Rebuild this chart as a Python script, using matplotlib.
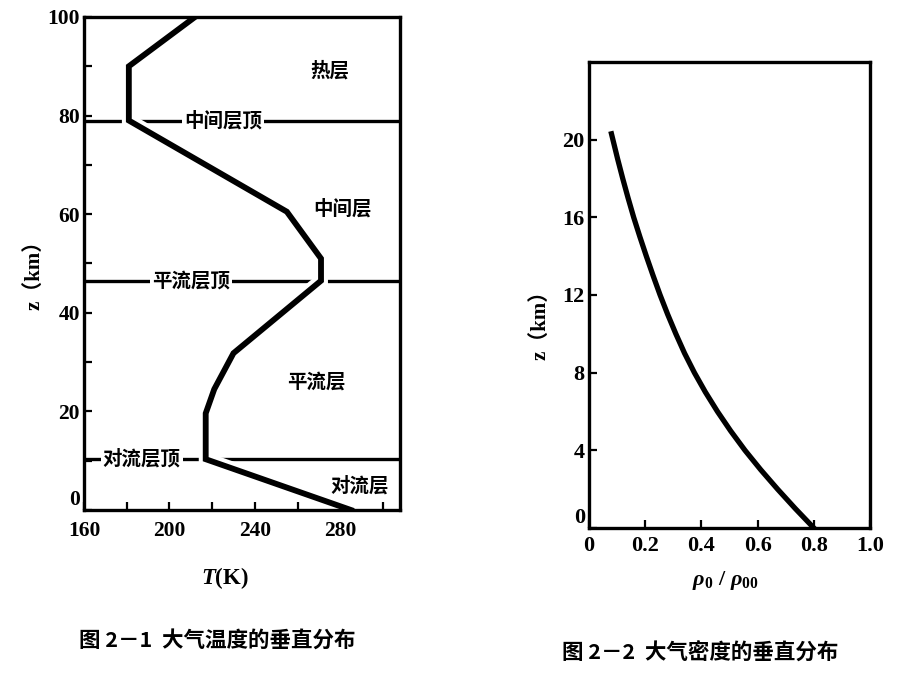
import matplotlib
matplotlib.use("Agg")
import matplotlib.pyplot as plt
import matplotlib.patheffects as pe

plt.rcParams['font.family'] = ['Liberation Serif', 'Noto Sans CJK SC']
plt.rcParams['mathtext.fontset'] = 'custom'
plt.rcParams['mathtext.it'] = 'Liberation Serif:italic:bold'
plt.rcParams['mathtext.rm'] = 'Liberation Serif:bold'
plt.rcParams['font.weight'] = 'bold'

# fig 2-1: temperature profile
temp_T = [285, 217, 217, 221, 230, 271, 271, 255, 181, 181, 212]
temp_z = [0, 10.3, 19.6, 24.5, 31.8, 46.5, 51, 60.5, 79, 90, 100]

layer_names = ['热层', '中间层', '平流层', '对流层']
layer_T = [275, 281, 269, 289]
layer_z = [89, 61, 26, 5]

top_names = ['中间层顶', '平流层顶', '对流层顶']
top_z = [79, 46.5, 10.3]
top_T = [225, 210, 187]

# fig 2-2: density profile
rho_z = [0, 1, 2, 3, 4, 5, 6, 7, 8, 9, 10, 11, 12, 13, 14, 15, 16, 17, 18, 19, 20.3]
rho = [0.800, 0.734, 0.671, 0.611, 0.555, 0.504, 0.457, 0.414, 0.375, 0.340, 0.309,
       0.280, 0.253, 0.228, 0.204, 0.181, 0.159, 0.139, 0.120, 0.102, 0.080]

fig = plt.figure(figsize=(9.2, 6.9), dpi=100)
cjk = ['Noto Sans CJK SC', 'Liberation Serif']

# ---- left panel
ax1 = fig.add_axes([0.0913, 0.2609, 0.3435, 0.7145])
ax1.plot(temp_T, temp_z, color='k', lw=4.2, zorder=2, solid_joinstyle='miter',
         path_effects=[pe.Stroke(linewidth=10, foreground='white'), pe.Normal()])
for z in top_z:
    ax1.axhline(z, color='k', lw=2.4, zorder=1)
for name, t, z in zip(top_names, top_T, top_z):
    ax1.text(t, z, name, family=cjk, fontsize=14, fontweight='bold', ha='center', va='center',
             zorder=3, bbox=dict(facecolor='white', edgecolor='none', pad=1.5))
for name, t, z in zip(layer_names, layer_T, layer_z):
    ax1.text(t, z, name, family=cjk, fontsize=14, fontweight='bold', ha='center', va='center', zorder=3)

ax1.set_xlim(160, 308)
ax1.set_ylim(0, 100)
ax1.set_xticks(range(160, 301, 20))
ax1.set_xticklabels(['160', '', '200', '', '240', '', '280', ''])
ax1.set_yticks(range(0, 101, 10))
ax1.set_yticklabels(['0', '', '20', '', '40', '', '60', '', '80', '', '100'])
ax1.tick_params(direction='in', length=6, width=1.6, labelsize=15.5, pad=3)
ax1.tick_params(axis='x', pad=8)
ax1.yaxis.get_major_ticks()[0].label1.set_verticalalignment('bottom')
for s in ax1.spines.values():
    s.set_linewidth(2.4)

# ---- right panel
ax2 = fig.add_axes([0.6402, 0.2348, 0.3055, 0.6754])
ax2.plot(rho, rho_z, color='k', lw=3.8, solid_joinstyle='round')
ax2.set_xlim(0, 1.0)
ax2.set_ylim(0, 24)
ax2.set_xticks([0, 0.2, 0.4, 0.6, 0.8, 1.0])
ax2.set_xticklabels(['0', '0.2', '0.4', '0.6', '0.8', '1.0'])
ax2.set_yticks([0, 4, 8, 12, 16, 20])
ax2.tick_params(direction='in', length=6, width=1.6, labelsize=16, pad=3)
ax2.tick_params(axis='x', pad=6)
ax2.yaxis.get_major_ticks()[0].label1.set_verticalalignment('bottom')
for s in ax2.spines.values():
    s.set_linewidth(2.4)

# axis titles and captions
fig.text(0.038, 0.609, 'z（km）', rotation=90, ha='center', va='center',
         fontsize=15, fontweight='bold')
fig.text(0.2446, 0.1623, r'$T$(K)', ha='center', va='center', fontsize=16.5)
fig.text(0.587, 0.536, 'z（km）', rotation=90, ha='center', va='center',
         fontsize=15, fontweight='bold')
fig.text(0.788, 0.159, r'$\rho_0\ /\ \rho_{00}$', ha='center', va='center', fontsize=16)

fig.text(0.236, 0.0725, '图 2－1  大气温度的垂直分布', family=cjk, ha='center', va='center',
         fontsize=15.5, fontweight='bold')
fig.text(0.761, 0.0536, '图 2－2  大气密度的垂直分布', family=cjk, ha='center', va='center',
         fontsize=15.5, fontweight='bold')

fig.savefig('out.png', dpi=100)
